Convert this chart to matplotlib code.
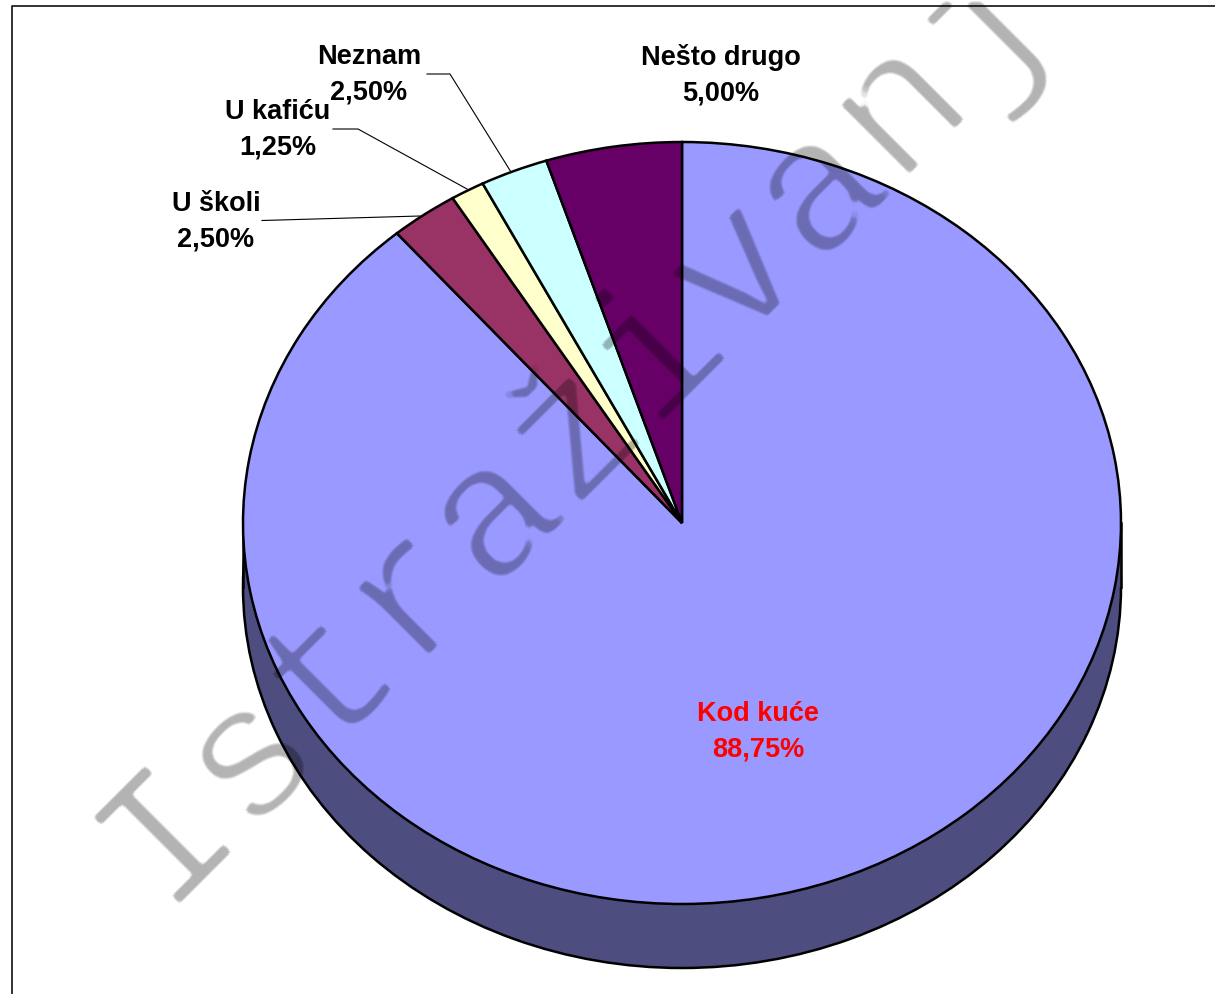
import matplotlib

matplotlib.use("Agg")
import matplotlib.pyplot as plt
import numpy as np
from matplotlib.patches import Rectangle
from matplotlib.transforms import Affine2D

# data, clockwise from 12 o'clock
categories = ["Kod kuće", "U školi", "U kafiću", "Neznam", "Nešto drugo"]
percents = [88.75, 2.50, 1.25, 2.50, 5.00]
colors = ["#9999FF", "#993366", "#FFFFCC", "#CCFFFF", "#660066"]
watermark = "Istraživanj"

W, H = 1215, 994
CX, CY, RX, RY, DEPTH = 682, 523, 439, 381, 64
SIDE = "#4D4D80"


def morph(alpha, radius, func):
    # min or max of alpha over a disk
    out = alpha.copy()
    for dx in range(-radius, radius + 1):
        for dy in range(-radius, radius + 1):
            if dx * dx + dy * dy <= radius * radius:
                out = func(out, np.roll(np.roll(alpha, dy, axis=0), dx, axis=1))
    return out


def thin_strokes(img, dpi):
    # the mono font is heavier than the one in the picture: thin it, round the ends
    pad = 10
    img = np.pad(img, ((pad, pad), (pad, pad), (0, 0)))
    a = img[..., 3]
    a = morph(a, 5, np.minimum)
    a = morph(a, 3, np.maximum)
    a = (a + morph(a, 1, np.maximum) + morph(a, 1, np.minimum)) / 3
    img[..., 3] = a
    return img, -pad, -pad


def main():
    plt.rcParams["font.family"] = ["Liberation Sans", "DejaVu Sans"]
    fig = plt.figure(figsize=(W / 100, H / 100), dpi=100)
    ax = fig.add_axes([0, 0, 1, 1])

    # pixels measured from the top left, for labels and leader lines
    px = Affine2D().scale(1, -1).translate(0, H)

    # side wall of the pie: same pie moved down + a block between the two
    depth = DEPTH / RY
    ax.pie([1], radius=1, center=(0, -depth), colors=[SIDE],
           wedgeprops={"edgecolor": "black", "linewidth": 1.8})
    ax.add_patch(Rectangle((-1, -depth), 2, depth, facecolor=SIDE, edgecolor="none", zorder=1.5))
    ax.plot([-1, -1], [-depth, 0], color="black", lw=1.8, zorder=1.6)
    ax.plot([1, 1], [-depth, 0], color="black", lw=1.8, zorder=1.6)

    wedges, _ = ax.pie(percents, radius=1, startangle=90, counterclock=False, colors=colors,
                       wedgeprops={"edgecolor": "black", "linewidth": 1.8})
    for w in wedges:
        w.set_zorder(2)

    # pie() forces equal aspect, the chart is tilted so stretch it back
    ax.set_aspect("auto")
    ax.set_xlim(-CX / RX, (W - CX) / RX)
    ax.set_ylim(-(H - CY) / RY, CY / RY)
    ax.set_axis_off()

    # chart area border, only top and left show
    ax.plot([11.5, 11.5, W], [H, 5.5, 5.5], color="#111111", lw=1.2, transform=px, clip_on=False)

    # labels
    label_pos = [(758, 732), (216, 222), (278, 130), (369, 75), (721, 75)]
    for cat, val, (x, y) in zip(categories, percents, label_pos):
        txt = f"{cat}\n{val:.2f}%".replace(".", ",")
        ax.text(x, y, txt, transform=px, ha="center", va="center", fontsize=19.5,
                fontweight="bold", linespacing=1.47, zorder=4,
                color="red" if cat == "Kod kuće" else "black")

    # leader lines
    leaders = [
        ([262, 420], [220.5, 216]),
        ([333, 358, 467], [129, 129, 189]),
        ([427, 450, 511], [74, 74, 172]),
    ]
    for xs, ys in leaders:
        ax.plot(xs, ys, color="black", lw=0.8, transform=px, zorder=3)

    wm = ax.text(161, 907, watermark, transform=px, rotation=45, rotation_mode="anchor",
                 ha="left", va="baseline", family="Liberation Mono",
                 fontsize=138, color="black", alpha=0.3, zorder=5)
    wm.set_agg_filter(thin_strokes)

    fig.savefig("out.png", dpi=100)
    plt.close(fig)


if __name__ == "__main__":
    main()
